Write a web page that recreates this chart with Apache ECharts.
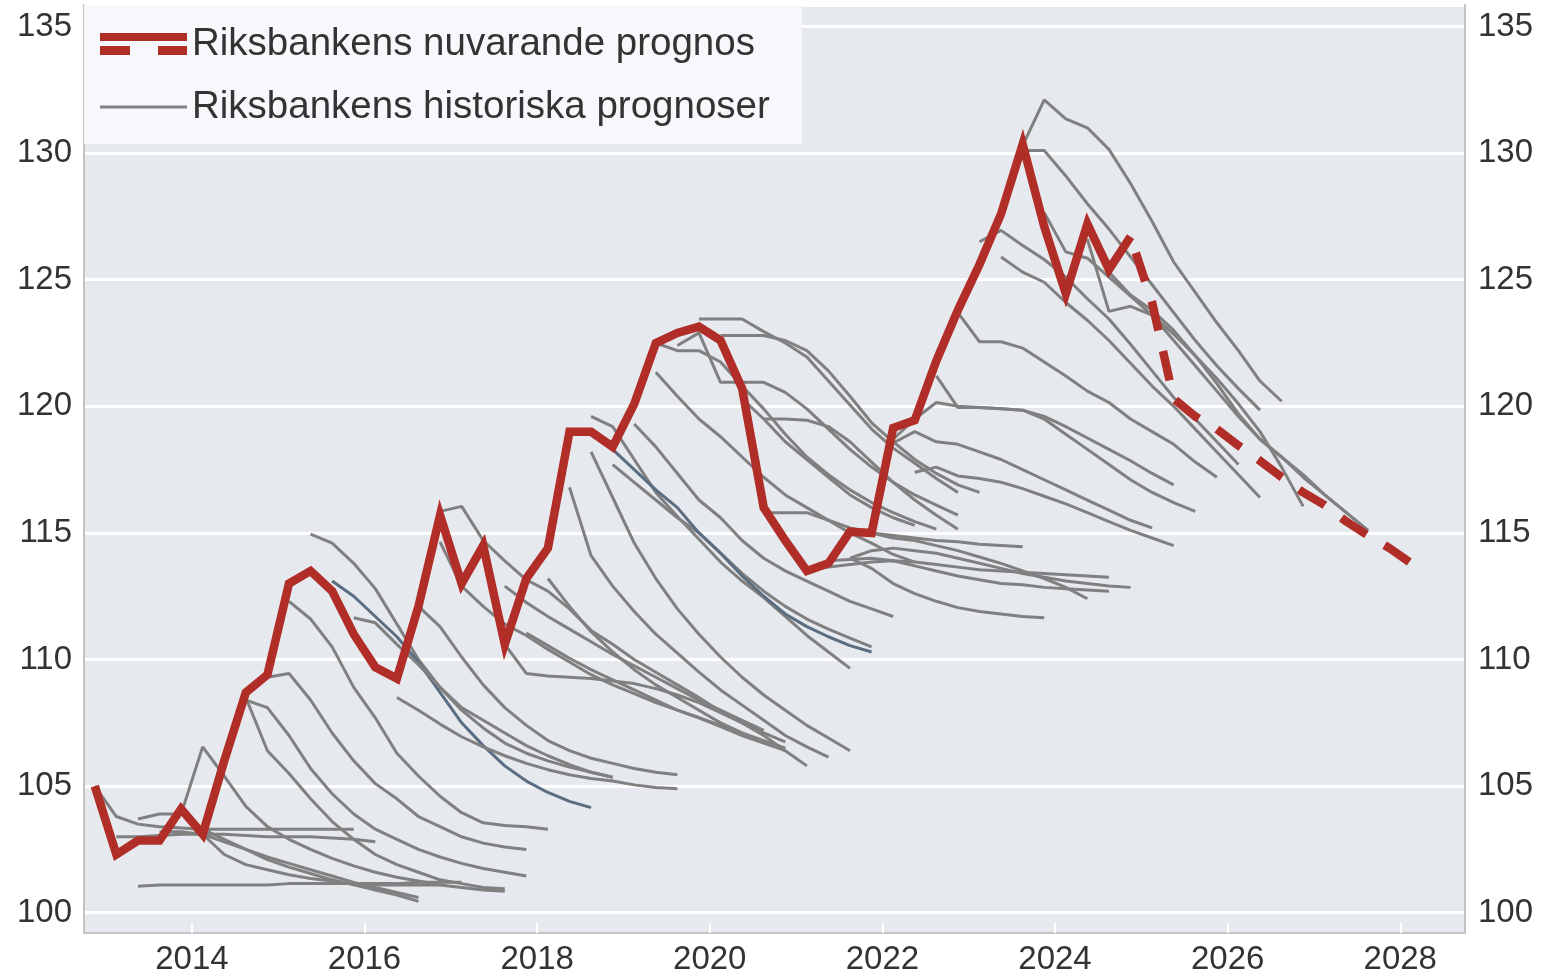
<!DOCTYPE html>
<html>
<head>
<meta charset="utf-8">
<script src="https://cdn.jsdelivr.net/npm/echarts@6/dist/echarts.min.js"></script>
<style>
  html, body { margin: 0; padding: 0; background: #fff; }
  #chart { width: 1542px; height: 976px; }
</style>
</head>
<body>
<div id="chart"></div>
<script>
// KIX-index, kvartalsdata. Startkvartal + värden per kvartal.
const yearTicks = [2014, 2016, 2018, 2020, 2022, 2024, 2026, 2028];
const valueTicks = [100, 105, 110, 115, 120, 125, 130, 135];

// Riksbankens nuvarande prognos: utfall (heldragen) och prognos (streckad)
const currentStart = '2012Q4';
const currentOutcome = [105.0, 102.3, 102.85, 102.85, 104.1, 103.1, 106.0, 108.7, 109.4, 113.0, 113.5, 112.7,
  111.0, 109.7, 109.25, 112.1, 115.7, 113.0, 114.5, 110.6, 113.2, 114.4, 119.0, 119.0, 118.4, 120.1, 122.5,
  122.9, 123.15, 122.6, 120.7, 116.0, 114.7, 113.5, 113.8, 115.05, 115.0, 119.15, 119.45, 121.8, 123.8, 125.6,
  127.6, 130.35, 127.1, 124.45, 127.2, 125.4, 126.7];
const forecastStart = '2024Q4';
const currentForecast = [126.7, 124.1, 120.3, 119.6, 119.1, 118.45, 117.85, 117.2, 116.6, 116.1, 115.45, 114.9, 114.4, 113.8];

// Riksbankens historiska prognoser
const histStart = [
  '2012Q4', '2013Q1', '2013Q2', '2013Q2', '2013Q3', '2014Q1', '2014Q1',
  '2014Q4', '2014Q3', '2014Q3',
  '2015Q1', '2015Q2', '2015Q3', '2015Q4', '2016Q2', '2016Q3',
  '2016Q4', '2016Q4', '2017Q3', '2017Q3', '2017Q4', '2018Q1',
  '2018Q2', '2018Q3', '2018Q3', '2018Q4', '2018Q4', '2019Q1', '2019Q2', '2019Q2', '2019Q3',
  '2019Q4', '2020Q1', '2020Q2', '2020Q3', '2020Q3',
  '2021Q1', '2021Q2', '2021Q3', '2021Q3', '2021Q3',
  '2022Q1', '2022Q1', '2022Q2', '2022Q3', '2022Q4',
  '2023Q1', '2023Q2', '2023Q3', '2023Q3', '2023Q4', '2024Q2', '2024Q3'
];
const histValues = [
  [105.0, 103.8, 103.5, 103.4, 103.35, 103.3, 103.3, 103.3, 103.3, 103.3, 103.3, 103.3, 103.3],
  [103.0, 103.0, 103.05, 103.1, 103.1, 103.1, 103.05, 103.0, 103.0, 103.0, 102.95, 102.9, 102.8],
  [101.05, 101.1, 101.1, 101.1, 101.1, 101.1, 101.1, 101.15, 101.15, 101.15, 101.15, 101.15, 101.15, 101.2, 101.2, 101.2],
  [103.7, 103.9, 103.9, 106.55, 105.4, 104.2, 103.4, 102.9, 102.5, 102.15, 101.85, 101.6, 101.4, 101.25, 101.1, 101.0, 100.9, 100.85],
  [103.2, 103.2, 103.1, 102.8, 102.5, 102.2, 101.95, 101.7, 101.45, 101.2, 101.0, 100.8, 100.6],
  [103.3, 102.9, 102.5, 102.1, 101.8, 101.55, 101.3, 101.1, 100.9, 100.7, 100.45],
  [103.1, 102.3, 101.9, 101.7, 101.5, 101.35, 101.25, 101.15, 101.1, 101.1, 101.1, 101.1],
  [109.3, 109.45, 108.4, 107.1, 106.0, 105.1, 104.5, 103.8, 103.4, 103.0, 102.75, 102.6, 102.5],
  [108.4, 108.1, 107.0, 105.7, 104.7, 103.9, 103.3, 102.9, 102.5, 102.2, 101.95, 101.75, 101.6, 101.45],
  [108.5, 106.4, 105.5, 104.5, 103.6, 102.9, 102.3, 101.9, 101.6, 101.3, 101.15, 101.0, 100.95],
  [112.3, 111.6, 110.5, 108.9, 107.7, 106.3, 105.4, 104.6, 103.95, 103.55, 103.45, 103.4, 103.3],
  [114.95, 114.6, 113.8, 112.8, 111.4, 110.0, 108.9, 108.1, 107.6, 107.1, 106.6, 106.2, 105.85, 105.55, 105.35],
  [113.1, 112.5, 111.7, 110.9, 109.9, 108.7, 107.5, 106.6, 105.8, 105.2, 104.75, 104.4, 104.15],
  [111.65, 111.45, 110.6, 109.8, 108.9, 108.0, 107.3, 106.7, 106.3, 106.0, 105.75, 105.55, 105.35],
  [108.5, 108.0, 107.45, 106.95, 106.55, 106.2, 105.9, 105.65, 105.45, 105.3, 105.2, 105.05, 104.95, 104.9],
  [112.1, 111.3, 110.1, 109.0, 108.1, 107.4, 106.8, 106.4, 106.1, 105.9, 105.7, 105.55, 105.45],
  [115.85, 116.05, 114.7, 113.9, 113.15, 112.7, 112.0, 111.15, 110.6, 110.0, 109.5, 109.0, 108.5, 107.95, 107.5, 107.1, 106.75],
  [114.65, 112.9, 112.1, 111.4, 110.95, 110.4, 109.9, 109.4, 109.0, 108.65, 108.3, 108.0, 107.7, 107.4, 107.1, 106.8, 106.5],
  [112.9, 112.25, 111.7, 111.2, 110.7, 110.2, 109.75, 109.3, 108.85, 108.4, 108.0, 107.6, 107.2],
  [110.6, 109.45, 109.35, 109.3, 109.25, 109.15, 109.05, 108.85, 108.6, 108.3, 107.9, 107.5, 107.0, 106.4, 105.8],
  [111.05, 110.55, 110.05, 109.6, 109.2, 108.8, 108.4, 108.0, 107.7, 107.35, 107.0, 106.7, 106.4],
  [113.2, 112.1, 111.1, 110.3, 109.6, 109.0, 108.5, 108.0, 107.5, 107.1],
  [116.8, 114.1, 112.9, 111.9, 111.0, 110.25, 109.5, 108.8, 108.2, 107.6, 107.0, 106.55, 106.15],
  [119.6, 119.2, 117.9, 116.6, 115.65, 114.75, 113.85, 113.1, 112.45, 111.7, 110.95, 110.3, 109.65],
  [118.2, 116.4, 114.6, 113.2, 112.0, 111.0, 110.1, 109.3, 108.6, 108.0, 107.4, 106.9, 106.4],
  [117.7, 117.0, 116.3, 115.6, 115.0, 114.2, 113.4, 112.7, 112.1, 111.6, 111.2, 110.85, 110.5],
  [118.3, 117.5, 116.7, 116.0, 115.0, 114.2, 113.3, 112.5, 111.8, 111.3, 110.9, 110.55, 110.3],
  [119.3, 118.4, 117.35, 116.3, 115.6, 114.7, 114.0, 113.5, 113.1, 112.7, 112.3, 112.0, 111.7],
  [121.35, 120.4, 119.5, 118.8, 118.0, 117.2, 116.5, 116.0, 115.5, 115.0, 114.6, 114.15, 113.85],
  [122.5, 122.2, 122.2, 121.75, 120.8, 119.9, 118.9, 118.0, 117.3, 116.7, 116.2, 115.8, 115.45, 115.15],
  [122.4, 122.9, 120.95, 120.95, 120.95, 120.55, 119.9, 119.1, 118.3, 117.6, 117.0, 116.5, 116.1, 115.7],
  [123.45, 123.45, 123.45, 122.95, 122.5, 121.95, 121.0, 120.05, 119.1, 118.35, 117.75, 117.15, 116.6],
  [122.8, 122.8, 122.8, 122.6, 122.2, 121.4, 120.4, 119.35, 118.6, 117.9, 117.35, 116.9, 116.6],
  [120.3, 119.5, 118.6, 117.9, 117.2, 116.5, 116.0, 115.6, 115.3],
  [119.5, 119.5, 119.45, 119.2, 118.6, 117.8, 117.0, 116.3, 115.7, 115.15],
  [115.8, 115.8, 115.8, 115.5, 115.2, 115.0, 114.9, 114.8, 114.7, 114.65, 114.55, 114.5, 114.45],
  [113.5, 113.65, 113.75, 113.85, 113.9, 113.85, 113.75, 113.65, 113.55, 113.5, 113.45, 113.4, 113.35, 113.3, 113.25],
  [113.9, 113.95, 114.0, 113.9, 113.7, 113.5, 113.3, 113.15, 113.0, 112.95, 112.85, 112.8, 112.75, 112.7],
  [114.0, 114.3, 114.4, 114.3, 114.2, 114.0, 113.8, 113.6, 113.4, 113.25, 113.1, 113.0, 112.9, 112.85],
  [115.05, 115.0, 114.8, 114.7, 114.5, 114.3, 114.05, 113.8, 113.5, 113.2, 112.85, 112.4],
  [114.0, 113.6, 113.0, 112.6, 112.3, 112.05, 111.9, 111.8, 111.7, 111.65],
  [118.55, 119.0, 118.6, 118.5, 118.2, 117.9, 117.5, 117.1, 116.7, 116.3, 115.9, 115.5, 115.2],
  [118.7, 119.5, 120.15, 120.0, 119.95, 119.9, 119.85, 119.5, 118.9, 118.3, 117.7, 117.1, 116.6, 116.2, 115.85],
  [117.4, 117.6, 117.25, 117.15, 117.0, 116.75, 116.45, 116.15, 115.8, 115.45, 115.1, 114.8, 114.5],
  [121.2, 119.95, 119.95, 119.9, 119.85, 119.6, 119.2, 118.75, 118.3, 117.85, 117.35, 116.9],
  [123.7, 122.55, 122.55, 122.3, 121.75, 121.2, 120.6, 120.15, 119.5, 119.0, 118.5, 117.8, 117.2],
  [126.5, 126.95, 126.35, 125.8, 125.1, 124.25, 123.45, 122.45, 121.4, 120.35, 119.5, 118.6, 117.7],
  [125.9, 125.3, 124.9, 124.1, 123.4, 122.6, 121.7, 120.8, 120.0, 119.1, 118.2, 117.3, 116.4],
  [130.3, 132.1, 131.35, 131.0, 130.15, 128.8, 127.3, 125.7, 124.5, 123.3, 122.2, 121.0, 120.2],
  [130.1, 130.1, 129.1, 128.0, 127.0, 125.9, 124.8, 123.7, 122.6, 121.6, 120.7, 119.85],
  [127.65, 126.1, 125.85, 125.1, 124.35, 123.6, 122.85, 122.0, 121.1, 120.1, 119.0, 117.6, 116.05],
  [126.6, 123.75, 123.95, 123.6, 122.6, 121.6, 120.6, 119.6, 118.7, 118.0, 117.2, 116.5, 115.8, 115.1],
  [125.3, 124.4, 123.8, 123.0, 122.0, 120.9, 119.7, 118.7, 118.0, 117.3, 116.5, 115.8, 115.1]
];
// två av de historiska linjerna är blågrå i originalet
const slateLines = [12, 26];

const RED = '#b12d27';
const GREY = '#808080';
const SLATE = '#5b6d80';
const NAME_CUR = 'Riksbankens nuvarande prognos';
const NAME_HIST = 'Riksbankens historiska prognoser';

// kvartal plottas mitt i kvartalet
function quarterX(label) {
  const y = parseInt(label.slice(0, 4), 10);
  const q = parseInt(label.slice(5), 10);
  return y + (q - 0.5) / 4;
}
function toPoints(start, values) {
  const x0 = quarterX(start);
  return values.map((v, i) => [x0 + i / 4, v]);
}

const chart = echarts.init(document.getElementById('chart'));

const series = histValues.map((vals, i) => ({
  name: NAME_HIST,
  type: 'line',
  data: toPoints(histStart[i], vals),
  showSymbol: false,
  symbol: 'none',
  silent: true,
  z: 2,
  itemStyle: { color: GREY },
  lineStyle: { color: slateLines.includes(i) ? SLATE : GREY, width: 3 }
}));

series.push({
  name: NAME_CUR,
  type: 'line',
  data: toPoints(forecastStart, currentForecast),
  symbol: 'none',
  silent: true,
  z: 4,
  itemStyle: { color: RED },
  lineStyle: { color: RED, width: 8.5, type: [30, 21], dashOffset: 34, cap: 'butt' }
});
series.push({
  name: NAME_CUR,
  type: 'line',
  data: toPoints(currentStart, currentOutcome),
  symbol: 'none',
  silent: true,
  z: 5,
  itemStyle: { color: RED },
  lineStyle: { color: RED, width: 8.5, join: 'miter' }
});

const labelFont = { fontFamily: 'Liberation Sans, Arial, sans-serif', fontSize: 33, color: '#333' };

const option = {
  animation: false,
  backgroundColor: '#fff',
  grid: {
    left: 84, right: 77, top: 5, bottom: 43,
    show: true, backgroundColor: '#e6e9ee', borderWidth: 0
  },
  legend: {
    orient: 'vertical',
    left: 84,
    top: 5,
    padding: [17, 32, 15, 16],
    itemGap: 19,
    itemWidth: 87,
    itemHeight: 22,
    symbolKeepAspect: false,
    backgroundColor: 'rgba(248,249,251,0.95)',
    itemStyle: { borderWidth: 0 },
    selectedMode: false,
    textStyle: { fontFamily: 'Liberation Sans, Arial, sans-serif', fontSize: 38.5, color: '#333', lineHeight: 44 },
    data: [
      { name: NAME_CUR, icon: 'path://M0,0H87V8H0Z M0,13H30V22H0Z M58,13H87V22H58Z' },
      { name: NAME_HIST, icon: 'path://M0,0L0.01,0M0,9.5H87V12.5H0Z M86.99,22L87,22' }
    ]
  },
  xAxis: {
    type: 'value',
    min: 2012.75,
    max: 2028.75,
    axisLine: { show: true, lineStyle: { color: '#c3c3c3', width: 2 } },
    axisTick: {
      show: true, inside: true, length: 10,
      customValues: yearTicks,
      lineStyle: { color: '#fff', width: 2 }
    },
    axisLabel: Object.assign({ customValues: yearTicks, margin: 10, formatter: v => String(v) }, labelFont),
    splitLine: { show: false }
  },
  yAxis: [
    {
      type: 'value',
      position: 'left',
      min: 99.2,
      max: 135.85,
      splitNumber: 7,
      axisLine: { show: true, lineStyle: { color: '#c3c3c3', width: 2 } },
      axisTick: { show: false },
      axisLabel: Object.assign({ customValues: valueTicks, margin: 12 }, labelFont),
      splitLine: { show: true, lineStyle: { color: '#fff', width: 3 } }
    },
    {
      type: 'value',
      position: 'right',
      min: 99.2,
      max: 135.85,
      splitNumber: 7,
      axisLine: { show: true, lineStyle: { color: '#c3c3c3', width: 2 } },
      axisTick: { show: false },
      axisLabel: Object.assign({ customValues: valueTicks, margin: 13 }, labelFont),
      splitLine: { show: false }
    }
  ],
  series: series
};

chart.setOption(option);
</script>
</body>
</html>
